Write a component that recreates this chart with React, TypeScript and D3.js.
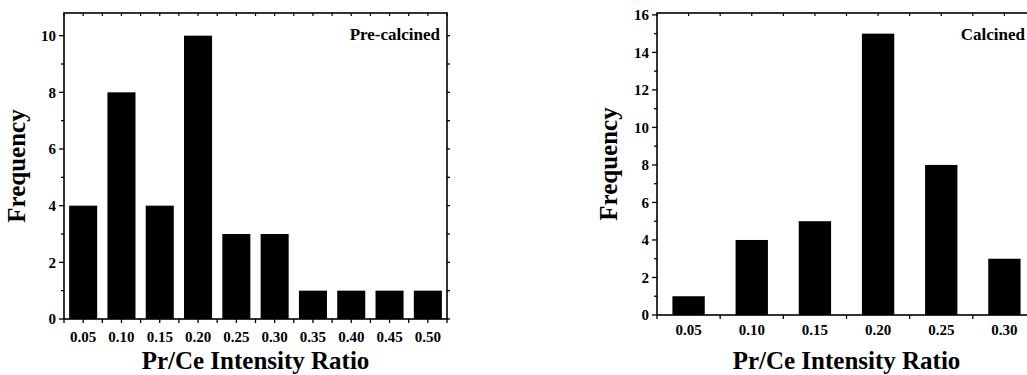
import React from 'react';
import * as d3 from 'd3';

// pre-calcined histogram
const preBins = [0.05, 0.1, 0.15, 0.2, 0.25, 0.3, 0.35, 0.4, 0.45, 0.5];
const preCounts = [4, 8, 4, 10, 3, 3, 1, 1, 1, 1];
const preXLabels = ['0.05', '0.10', '0.15', '0.20', '0.25', '0.30', '0.35', '0.40', '0.45', '0.50'];
const preYLabels = [0, 2, 4, 6, 8, 10];

// calcined histogram
const calBins = [0.05, 0.1, 0.15, 0.2, 0.25, 0.3];
const calCounts = [1, 4, 5, 15, 8, 3];
const calXLabels = ['0.05', '0.10', '0.15', '0.20', '0.25', '0.30'];
const calYLabels = [0, 2, 4, 6, 8, 10, 12, 14, 16];

const FONT = '"Liberation Serif", "Times New Roman", serif';

type PanelProps = {
  bins: number[];
  counts: number[];
  xLabels: string[];
  yLabels: number[];
  title: string;
  titleRight: number;
  left: number;
  right: number;
  top: number;
  bottom: number;
  xDomain: [number, number];
  yMax: number;
  barWidth: number;
  bottomTickStep: number;
  bottomTickStart: number;
  xLabelY: number;
  yTitleX: number;
};

function Panel(p: PanelProps) {
  const x = d3.scaleLinear().domain(p.xDomain).range([p.left, p.right]);
  const y = d3.scaleLinear().domain([0, p.yMax]).range([p.bottom, p.top]);

  const yMinor = d3.range(0, Math.floor(p.yMax) + 1, 1);
  const topTicks = d3.range(p.xDomain[0], p.xDomain[1] + 1e-9, 0.025);
  const bottomTicks = d3.range(p.bottomTickStart, p.xDomain[1] + 1e-9, p.bottomTickStep);
  const sw = 1.6;

  return (
    <g>
      {/* bars */}
      {p.bins.map((b, i) => (
        <rect
          key={'b' + i}
          x={x(b - p.barWidth / 2)}
          y={y(p.counts[i])}
          width={x(b + p.barWidth / 2) - x(b - p.barWidth / 2)}
          height={y(0) - y(p.counts[i])}
          fill="#000"
        />
      ))}
      {/* frame */}
      <rect
        x={p.left}
        y={p.top}
        width={p.right - p.left}
        height={p.bottom - p.top}
        fill="none"
        stroke="#000"
        strokeWidth={sw}
      />
      {/* left and right y ticks */}
      {yMinor.map((v) => {
        const len = v % 2 === 0 ? 5 : 3;
        return (
          <g key={'y' + v}>
            <line x1={p.left - len} x2={p.left} y1={y(v)} y2={y(v)} stroke="#000" strokeWidth={1.3} />
            <line x1={p.right} x2={p.right + 3} y1={y(v)} y2={y(v)} stroke="#000" strokeWidth={1.3} />
          </g>
        );
      })}
      {p.yLabels.map((v) => (
        <text
          key={'yl' + v}
          x={p.left - 8}
          y={y(v)}
          dy="0.35em"
          textAnchor="end"
          fontFamily={FONT}
          fontWeight="bold"
          fontSize={15}
        >
          {v}
        </text>
      ))}
      {/* top ticks */}
      {topTicks.map((t, i) => (
        <line key={'t' + i} x1={x(t)} x2={x(t)} y1={p.top} y2={p.top + 3} stroke="#000" strokeWidth={1.2} />
      ))}
      {/* bottom ticks */}
      {bottomTicks.map((t, i) => (
        <line key={'bt' + i} x1={x(t)} x2={x(t)} y1={p.bottom} y2={p.bottom + 4} stroke="#000" strokeWidth={1.3} />
      ))}
      {p.bins.map((b, i) => (
        <text
          key={'xl' + i}
          x={x(b)}
          y={p.xLabelY}
          textAnchor="middle"
          fontFamily={FONT}
          fontWeight="bold"
          fontSize={15}
        >
          {p.xLabels[i]}
        </text>
      ))}
      {/* axis titles */}
      <text
        x={(p.left + p.right) / 2}
        y={369}
        textAnchor="middle"
        fontFamily={FONT}
        fontWeight="bold"
        fontSize={25}
      >
        Pr/Ce Intensity Ratio
      </text>
      <text
        transform={`translate(${p.yTitleX},${(p.top + p.bottom) / 2}) rotate(-90)`}
        textAnchor="middle"
        fontFamily={FONT}
        fontWeight="bold"
        fontSize={25}
      >
        Frequency
      </text>
      <text
        x={p.titleRight}
        y={40}
        textAnchor="end"
        fontFamily={FONT}
        fontWeight="bold"
        fontSize={17}
      >
        {p.title}
      </text>
    </g>
  );
}

export default function App() {
  return (
    <svg
      width={1027}
      height={375}
      style={{ position: 'absolute', left: 0, top: 0, background: '#fff' }}
    >
      <Panel
        bins={preBins}
        counts={preCounts}
        xLabels={preXLabels}
        yLabels={preYLabels}
        title="Pre-calcined"
        titleRight={440}
        left={64}
        right={447}
        top={13}
        bottom={319}
        xDomain={[0.025, 0.525]}
        yMax={10.8}
        barWidth={0.0366}
        bottomTickStep={0.025}
        bottomTickStart={0.025}
        xLabelY={342}
        yTitleX={25}
      />
      <Panel
        bins={calBins}
        counts={calCounts}
        xLabels={calXLabels}
        yLabels={calYLabels}
        title="Calcined"
        titleRight={1025}
        left={657}
        right={1036}
        top={13}
        bottom={315}
        xDomain={[0.025, 0.325]}
        yMax={16.1}
        barWidth={0.0256}
        bottomTickStep={0.05}
        bottomTickStart={0.025}
        xLabelY={335}
        yTitleX={617}
      />
    </svg>
  );
}
